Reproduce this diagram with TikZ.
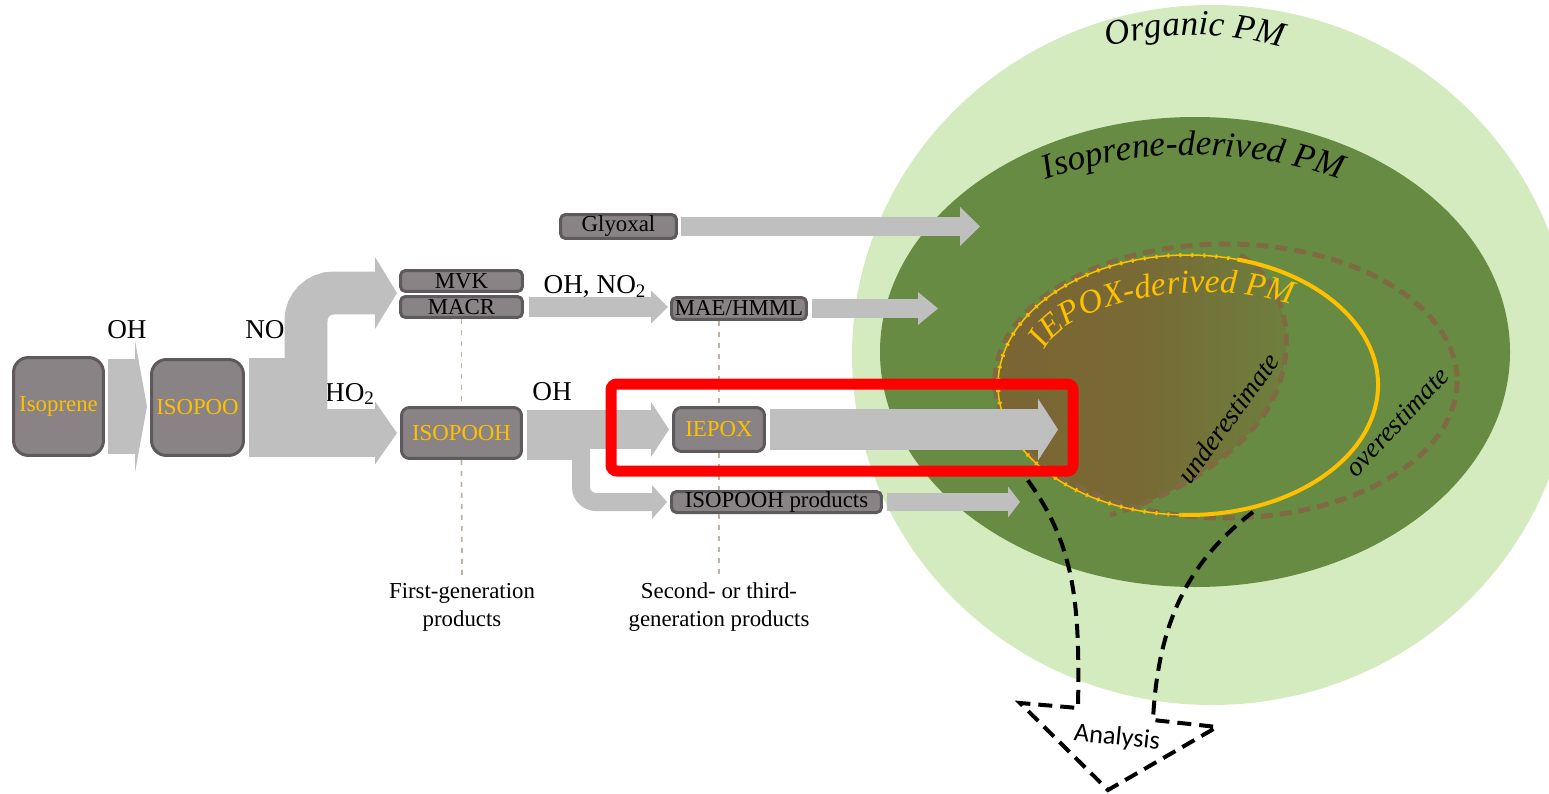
\documentclass[tikz,border=0pt]{standalone}
\usepackage{fontspec}
\setmainfont{Liberation Serif}
\newfontfamily\anafont{Carlito}
\usetikzlibrary{arrows.meta,calc,decorations.text}

\definecolor{lightpm}{HTML}{D4EBC0}
\definecolor{darkpm}{HTML}{678B42}
\definecolor{brownpm}{HTML}{7B6433}
\definecolor{dashbrown}{HTML}{806A42}
\definecolor{gold}{HTML}{FFC000}
\definecolor{boxfill}{HTML}{8A8386}
\definecolor{boxline}{HTML}{5E595C}
\definecolor{flowgray}{HTML}{BFBFBF}
\definecolor{guidetan}{HTML}{BDB39E}

\newcommand\pmfont{\fontsize{20}{24}\selectfont\itshape}

\tikzset{
  box/.style={draw=boxline, fill=boxfill, line width=0.06cm, rounded corners=0.1cm,
    inner sep=0pt, font=\fontsize{13}{15}\selectfont},
  bigbox/.style={box, rounded corners=0.3cm, text=gold},
  reagent/.style={font=\fontsize{15.5}{18}\selectfont, inner sep=1pt},
  caption/.style={align=center, font=\fontsize{13}{16}\selectfont},
  flow/.style n args={3}{draw=flowgray, line width=#1,
    -{Triangle[length=#2, width=#3, line width=0pt]}},
  guide/.style={draw=guidetan, line width=0.035cm, dash pattern=on 0.1cm off 0.12cm},
  estimate/.style={draw=dashbrown, line width=0.1cm, dash pattern=on 0.24cm off 0.14cm},
  pmlabel/.style={font=\fontsize{15.5}{18}\selectfont\itshape},
}

\begin{document}
\begin{tikzpicture}[x=0.02cm, y=-0.02cm]
 \useasboundingbox (0,0) rectangle (1549,794);
 \clip (0,0) rectangle (1549,794);

 % PM pools
 \fill[lightpm] (1212,355) ellipse [x radius=360, y radius=350];
 \fill[darkpm] (1195,352) ellipse [x radius=315, y radius=235];
 \begin{scope}
  \clip (1188,385) ellipse [x radius=190, y radius=130];
  \shade[left color=brownpm, right color=brownpm!25!darkpm, middle color=brownpm!85!darkpm]
   (980,240) -- (1240,240) -- (1240,255) .. controls (1300,290) and (1300,380) .. (1250,432)
   .. controls (1210,475) and (1160,500) .. (1110,515) -- (1110,540) -- (980,540) -- cycle;
 \end{scope}
 \draw[estimate] (1226,381) ellipse [x radius=231, y radius=137];
 \draw[estimate] (1240,255) .. controls (1300,290) and (1300,380) .. (1250,432)
   .. controls (1210,475) and (1160,500) .. (1110,515);
 \draw[gold, line width=0.08cm] (1188,385) ++(-75:190 and 130)
   arc[start angle=-75, end angle=92, x radius=190, y radius=130];
 \draw[gold, line width=0.03cm] (1188,385) ++(92:190 and 130)
   arc[start angle=92, end angle=285, x radius=190, y radius=130];
 \draw[gold, line width=0.08cm, dash pattern=on 0.04cm off 0.2cm] (1188,385) ++(92:190 and 130)
   arc[start angle=92, end angle=285, x radius=190, y radius=130];

 \path[decorate, decoration={text along path, text align=center, text={|\pmfont|Organic PM}}]
   (1195,355) ++(-120:320) arc[start angle=-120, end angle=-60, radius=320];
 \path[decorate, decoration={text along path, text align=center, text={|\pmfont|Isoprene-derived PM}}]
   (1193,605) ++(-125:450) arc[start angle=-125, end angle=-55, radius=450];
 \path[decorate, decoration={text along path,
   text={|\fontsize{19}{22}\selectfont\itshape\color{gold}|IEPOX-derived PM}}]
   (1045,350) .. controls (1072,295) and (1240,268) .. (1330,322);
 \node[pmlabel, rotate=54] (under) at (1228,418) {underestimate};
 \node[pmlabel, rotate=47] (over) at (1397,422) {overestimate};

 % species
 \node[bigbox, minimum width=1.8cm, minimum height=1.96cm] (isoprene) at (58.5,406.5) {Isoprene};
 \node[bigbox, minimum width=1.84cm, minimum height=1.92cm] (isopoo) at (197.5,407.5) {ISOPOO};
 \node[bigbox, rounded corners=0.16cm, minimum width=2.4cm, minimum height=1.02cm] (isopooh) at (461.5,433) {ISOPOOH};
 \node[bigbox, rounded corners=0.16cm, minimum width=1.82cm, minimum height=0.88cm] (iepox) at (719,429.5) {IEPOX};
 \node[box, minimum width=2.44cm, minimum height=0.42cm] (mvk) at (461.5,281) {MVK};
 \node[box, minimum width=2.44cm, minimum height=0.42cm] (macr) at (461.5,307) {MACR};
 \node[box, minimum width=2.32cm, minimum height=0.48cm] (glyoxal) at (618.5,226.5) {Glyoxal};
 \node[box, minimum width=2.7cm, minimum height=0.44cm] (mae) at (739,308.5) {MAE/HMML};
 \node[box, minimum width=4.2cm, minimum height=0.42cm] (products) at (776.5,502) {ISOPOOH products};

 \node[reagent] (oh1) at (127,330) {OH};
 \node[reagent] (no) at (265,330) {NO};
 \node[reagent] (ho2) at (350,394) {HO\textsubscript{2}};
 \node[reagent] (ohno2) at (595,287) {OH, NO\textsubscript{2}};
 \node[reagent] (oh2) at (552,392) {OH};

 \node[caption] (gen1) at (462,607) {First-generation\\products};
 \node[caption] (gen2) at (719,607) {Second- or third-\\generation products};

 \coordinate (split) at (306,433);
 \coordinate (split2) at (581,440);
 \coordinate (gtip) at (980,226.5);
 \coordinate (mtip) at (938,308.5);
 \coordinate (etip) at (1058,429.5);
 \coordinate (ptip) at (1020,502);

 % flows
 \draw[flow={1.9cm}{0.24cm}{2.64cm}, shorten <=0.06cm, shorten >=0.06cm] (isoprene.east) -- (isoprene.east -| isopoo.west);
 \fill[flowgray] ([xshift=0.08cm]isopoo.north east) rectangle (split |- isopoo.south);
 \draw[flow={0.86cm}{0.44cm}{1.44cm}, rounded corners=0.55cm, shorten >=0.04cm] (split) |- (mvk.south west);
 \draw[flow={0.96cm}{0.44cm}{1.26cm}, shorten >=0.06cm] (split) -- (isopooh.west);
 \draw[flow={0.4cm}{0.4cm}{0.78cm}, shorten <=0.06cm] (glyoxal.east) -- (gtip);
 \draw[flow={0.4cm}{0.34cm}{0.66cm}, shorten <=0.1cm, shorten >=0.04cm] (macr.east) -- (macr.east -| mae.west);
 \draw[flow={0.4cm}{0.4cm}{0.66cm}, shorten <=0.08cm] (mae.east) -- (mtip);
 \fill[flowgray] ($(isopooh.east |- iepox.west)+(4,-20)$) rectangle (split2 |- isopooh.south);
 \draw[flow={0.8cm}{0.36cm}{1.1cm}, shorten <=0.08cm, shorten >=0.06cm] (isopooh.east |- iepox.west) -- (iepox.west);
 \draw[flow={0.36cm}{0.3cm}{0.68cm}, rounded corners=0.3cm, shorten >=0.06cm] (split2) |- (products.west);
 \draw[flow={0.84cm}{0.4cm}{1.24cm}, shorten <=0.08cm] (iepox.east) -- (etip);
 \draw[flow={0.36cm}{0.24cm}{0.62cm}, shorten <=0.08cm] (products.east) -- (ptip);

 % generation guides
 \draw[guide] (macr.south) -- (isopooh.north);
 \draw[guide] (isopooh.south) -- (gen1.north);
 \draw[guide] (iepox.north |- mae.south) -- (iepox.north);
 \draw[guide] (iepox.south) -- (iepox.south |- products.north);
 \draw[guide] (iepox.south |- products.south) -- (iepox.south |- gen2.north);

 % analysis
 \draw[line width=0.08cm, dash pattern=on 0.28cm off 0.16cm]
   (1253,512) .. controls (1190,560) and (1158,620) .. (1153,720) -- (1217,727) -- (1108,790)
   -- (1020,703) -- (1078,708) .. controls (1080,600) and (1075,540) .. (1020,470);
 \node[font=\anafont\fontsize{15}{17}\selectfont, rotate=-6] (analysis) at (1117,738) {Analysis};

 \draw[red, line width=0.22cm, rounded corners=0.12cm] (611,384) rectangle (1073,471);
\end{tikzpicture}
\end{document}
